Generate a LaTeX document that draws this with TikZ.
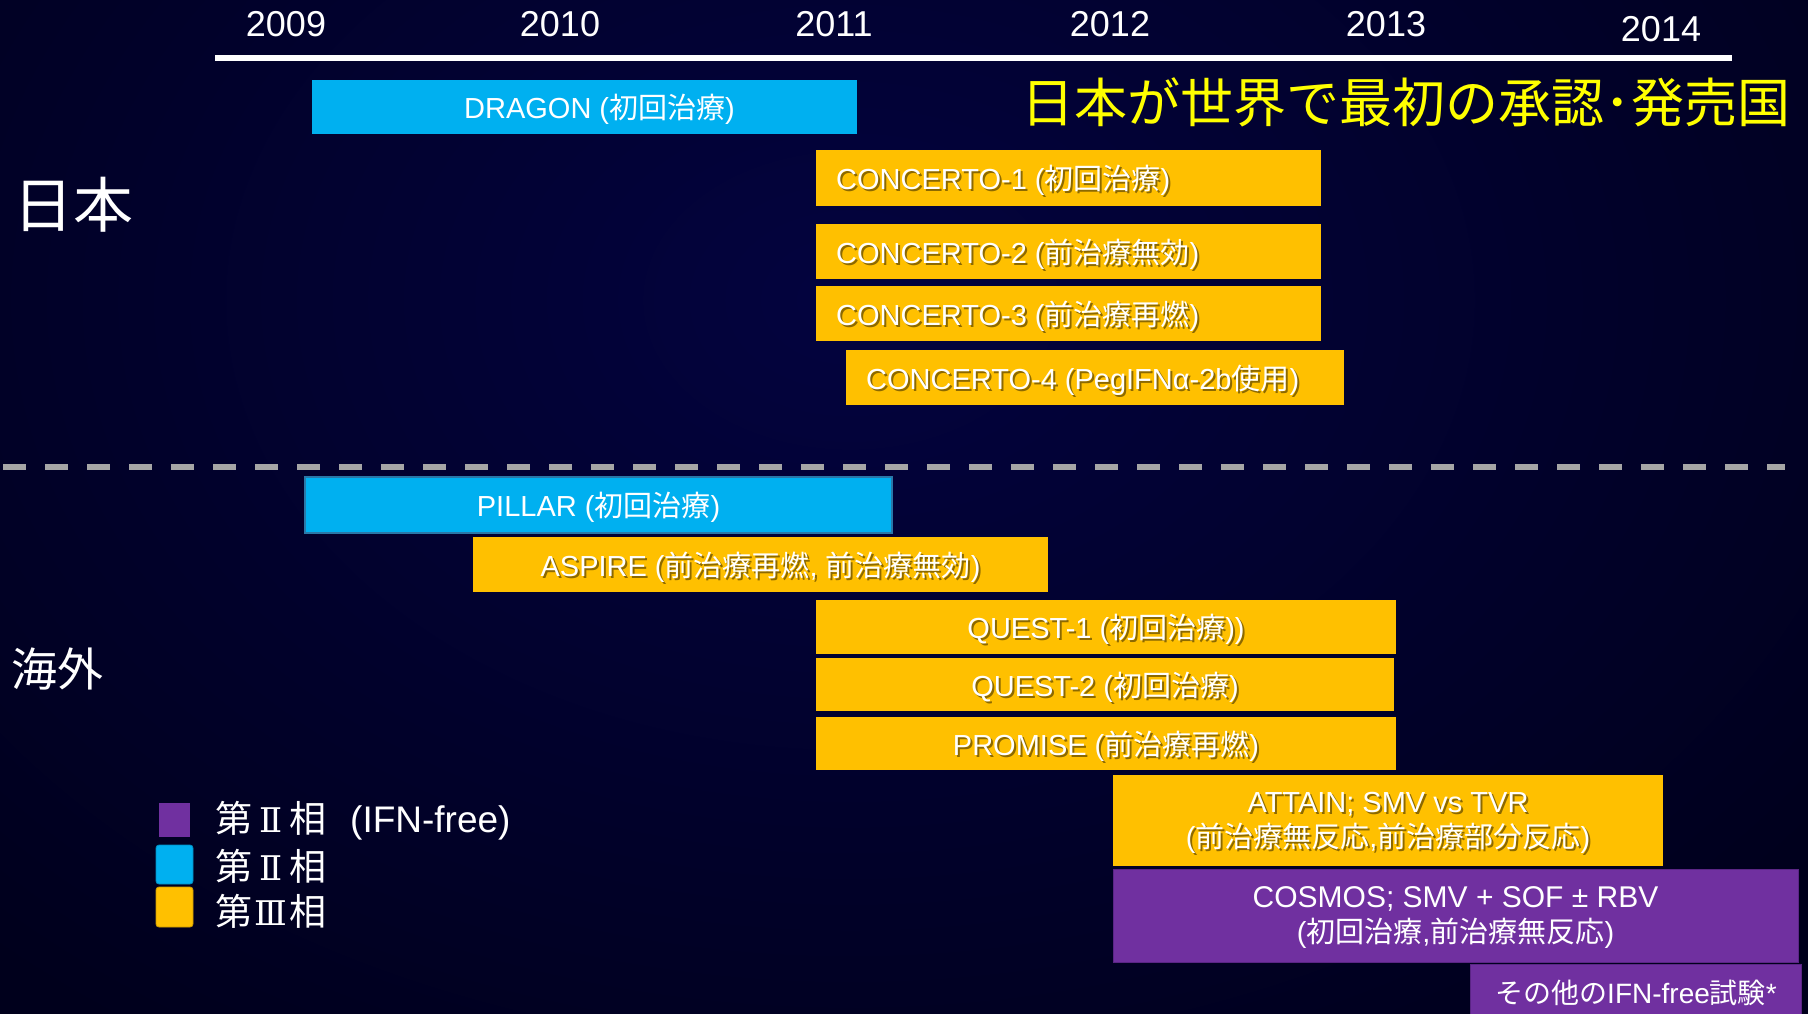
\documentclass[tikz,border=0pt]{standalone}
\usepackage{fontspec}
\setmainfont{Liberation Sans}
\newfontfamily\jpf{Noto Sans CJK JP}
\newfontfamily\dvf{DejaVu Serif}
\newcommand\J[1]{{\jpf #1}}
\newcommand\RN[1]{\makebox[37pt]{\fontsize{34}{34}\selectfont\dvf #1}}
\definecolor{cyanc}{HTML}{00B0F0}
\definecolor{yelc}{HTML}{FFC000}
\definecolor{purc}{HTML}{7030A0}
\definecolor{purb}{HTML}{5A2585}
\definecolor{pillarb}{HTML}{2A78A8}
\definecolor{bgin}{HTML}{03033F}
\definecolor{bgout}{HTML}{00001C}
\definecolor{dashc}{HTML}{A6A6A6}
\definecolor{titley}{HTML}{FFFF00}
\newcommand\bx[6]{\node[#2, minimum width={#5pt-#3pt}, minimum height={#6pt-#4pt}] (#1) at ({(#3+#5)/2},{(#4+#6)/2}) {};}
\newcommand\sht[4][]{\node[shd,#1,xshift=2pt,yshift=-2pt] at (#2) {#4};\node[lbl,#1] (#3) at (#2) {#4};}
\begin{document}
\begin{tikzpicture}[x=1pt,y=-1pt,
  boxs/.style={inner sep=0pt,outer sep=0pt,draw=none},
  cyb/.style={boxs,fill=cyanc},
  yb/.style={boxs,fill=yelc},
  pub/.style={boxs,fill=purc},
  lbl/.style={text=white,font=\fontsize{29}{35}\selectfont,inner sep=0pt,yshift=-2.5pt},
  shd/.style={lbl,text=black,opacity=0.45},
  yr/.style={text=white,font=\fontsize{36}{36}\selectfont,inner sep=0pt},
  lgt/.style={text=white,font=\fontsize{37}{37}\selectfont,inner sep=0pt,anchor=west}]
\useasboundingbox (0,0) rectangle (1808,1014);
\fill[bgout] (0,0) rectangle (1808,1014);
\begin{scope}
\clip (0,0) rectangle (1808,1014);
\shade[inner color=bgin,outer color=bgout] (850,300) ellipse [x radius=1250pt,y radius=900pt];
\end{scope}
% years
\node[yr] (y2009) at (286,24.5) {2009};
\node[yr] (y2010) at (560,24.5) {2010};
\node[yr] (y2011) at (834,24.5) {2011};
\node[yr] (y2012) at (1110,24.5) {2012};
\node[yr] (y2013) at (1386,24.5) {2013};
\node[yr] (y2014) at (1661,29.5) {2014};
\coordinate (tl0) at (215,58);
\coordinate (tl1) at (1732,58);
\draw[white,line width=6pt] (tl0) -- (tl1);
% dashed divider
\coordinate (d0) at (3,467);
\coordinate (d1) at (1785,467);
\draw[dashc,line width=6pt,dash pattern=on 23pt off 19pt] (d0) -- (d1);
% title and region labels
\node[text=titley,font=\jpf\fontsize{53}{53}\selectfont,inner sep=0pt] (title) at (1406,102) {日本が世界で最初の承認\makebox[26.5pt]{･}発売国};
\node[text=white,font=\jpf\fontsize{60}{60}\selectfont,inner sep=0pt] (jp) at (73,205) {日本};
\node[text=white,font=\jpf\fontsize{46}{46}\selectfont,inner sep=0pt] (ov) at (58,669) {海外};
% boxes
\bx{dragon}{cyb}{312}{80}{857}{134}
\bx{c1}{yb}{816}{150}{1321}{206}
\bx{c2}{yb}{816}{224}{1321}{279}
\bx{c3}{yb}{816}{286}{1321}{341}
\bx{c4}{yb}{846}{350}{1344}{405}
\bx{pillar}{cyb,draw=pillarb,line width=1.5pt}{305}{477}{892}{533}
\bx{aspire}{yb}{473}{537}{1048}{592}
\bx{q1}{yb}{816}{600}{1396}{654}
\bx{q2}{yb}{816}{658}{1394}{711}
\bx{prom}{yb}{816}{717}{1396}{770}
\bx{attain}{yb}{1113}{775}{1663}{866}
\bx{cosmos}{pub,draw=purb,line width=1pt}{1113}{869}{1798}{962}
\bx{other}{pub,draw=purb,line width=1pt}{1470}{964}{1801}{1022}
% box texts
\node[lbl,xshift=15pt] (dragont) at (dragon) {DRAGON (\J{初回治療})};
\sht[anchor=west,xshift=20pt]{c1.west}{c1t}{CONCERTO-1 (\J{初回治療})}
\sht[anchor=west,xshift=20pt]{c2.west}{c2t}{CONCERTO-2 (\J{前治療無効})}
\sht[anchor=west,xshift=20pt]{c3.west}{c3t}{CONCERTO-3 (\J{前治療再燃})}
\sht[anchor=west,xshift=20pt]{c4.west}{c4t}{CONCERTO-4 (PegIFNα-2b\J{使用})}
\node[lbl] (pillart) at (pillar) {PILLAR (\J{初回治療})};
\sht{aspire}{aspiret}{ASPIRE (\J{前治療再燃}, \J{前治療無効})}
\sht{q1}{q1t}{QUEST-1 (\J{初回治療}))}
\sht{q2}{q2t}{QUEST-2 (\J{初回治療})}
\sht{prom}{promt}{PROMISE (\J{前治療再燃})}
\sht[align=center]{attain}{attaint}{ATTAIN; SMV vs TVR\\(\J{前治療無反応},\J{前治療部分反応})}
\node[lbl,align=center] (cosmost) at (cosmos) {{\fontsize{30}{35}\selectfont COSMOS; SMV + SOF ± RBV}\\(\J{初回治療},\J{前治療無反応})};
\node[lbl,font=\fontsize{28}{34}\selectfont] (othert) at (1636,990) {\J{その他の}IFN-free\J{試験}*};
% legend
\node[boxs,fill=purc,minimum width=31pt,minimum height=34pt] (lg1) at (174.5,820) {};
\node[boxs,fill=cyanc,draw=cyanc!80!black,line width=0.8pt,rounded corners=3pt,minimum width=37pt,minimum height=39pt] (lg2) at (174.5,864.5) {};
\node[boxs,fill=yelc,draw=yelc!80!black,line width=0.8pt,rounded corners=3pt,minimum width=37pt,minimum height=40pt] (lg3) at (174.5,907) {};
\node[lgt] (lt1) at (215,821) {\J{第}\RN{Ⅱ}\J{相}\hspace{24pt}(IFN-free)};
\node[lgt] (lt2) at (215,866) {\J{第}\RN{Ⅱ}\J{相}};
\node[lgt] (lt3) at (215,911) {\J{第}\RN{Ⅲ}\J{相}};
\end{tikzpicture}
\end{document}
